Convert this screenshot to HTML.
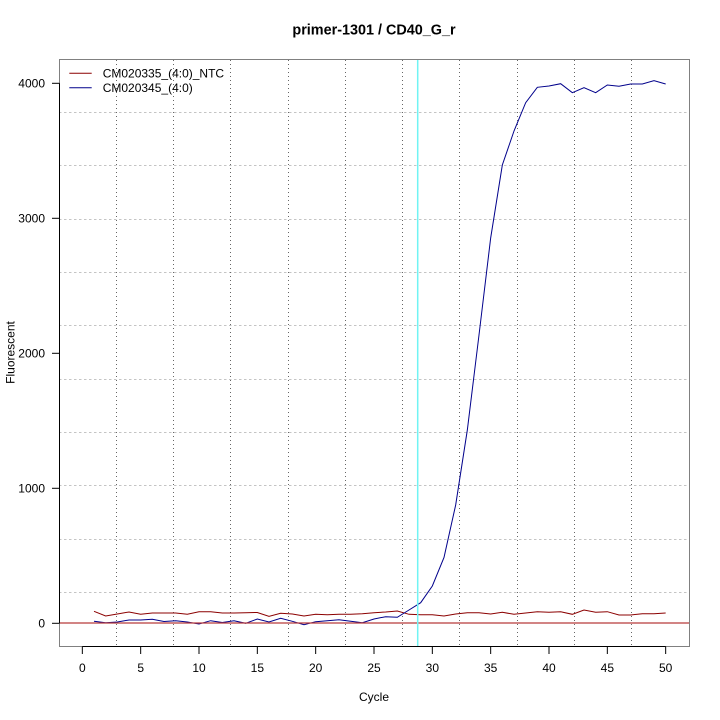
<!DOCTYPE html>
<html><head><meta charset="utf-8"><style>
html,body{margin:0;padding:0;background:#fff;}
svg{display:block;}
text{font-family:"Liberation Sans",Arial,sans-serif;fill:#000;}
</style></head><body>
<svg width="720" height="720" viewBox="0 0 720 720" xmlns="http://www.w3.org/2000/svg">
<rect width="720" height="720" fill="#fff"/>
<!-- horizontal dashed grid -->
<g stroke="#c4c4c4" stroke-width="1" stroke-dasharray="2.5,2.5">
<line x1="59" x2="689" y1="112.5" y2="112.5"/>
<line x1="59" x2="689" y1="165.5" y2="165.5"/>
<line x1="59" x2="689" y1="219.5" y2="219.5"/>
<line x1="59" x2="689" y1="272.5" y2="272.5"/>
<line x1="59" x2="689" y1="325.5" y2="325.5"/>
<line x1="59" x2="689" y1="379.5" y2="379.5"/>
<line x1="59" x2="689" y1="432.5" y2="432.5"/>
<line x1="59" x2="689" y1="485.5" y2="485.5"/>
<line x1="59" x2="689" y1="539.5" y2="539.5"/>
<line x1="59" x2="689" y1="592.5" y2="592.5"/>
</g>
<!-- vertical dotted grid -->
<g stroke="#666" stroke-width="1" stroke-dasharray="1,3">
<line y1="60" y2="646" x1="116.5" x2="116.5"/>
<line y1="60" y2="646" x1="173.5" x2="173.5"/>
<line y1="60" y2="646" x1="230.5" x2="230.5"/>
<line y1="60" y2="646" x1="288.5" x2="288.5"/>
<line y1="60" y2="646" x1="345.5" x2="345.5"/>
<line y1="60" y2="646" x1="402.5" x2="402.5"/>
<line y1="60" y2="646" x1="459.5" x2="459.5"/>
<line y1="60" y2="646" x1="517.5" x2="517.5"/>
<line y1="60" y2="646" x1="574.5" x2="574.5"/>
<line y1="60" y2="646" x1="631.5" x2="631.5"/>
</g>
<!-- series -->
<polyline fill="none" stroke="#8b0000" stroke-width="1" points="94.0,611.3 105.67,616 117.33,614 129.0,612 140.67,614.3 152.33,613 164.0,613 175.67,613 187.33,614.3 199.0,611.7 210.67,611.7 222.33,613 234.0,613 245.67,612.7 257.33,612.5 269.0,616.3 280.67,613.3 292.33,614 304.0,616 315.67,614.3 327.33,614.7 339.0,614.3 350.67,614.3 362.33,613.7 374.0,612.7 385.67,612 397.33,611 409.0,614.3 420.67,614.7 432.33,614.7 444.0,616 455.67,614 467.33,612.7 479.0,612.7 490.67,614 502.33,612.3 514.0,614.3 525.67,613 537.33,611.7 549.0,612.3 560.67,611.7 572.33,614.3 584.0,610 595.67,612.3 607.33,611.7 619.0,615 630.67,615 642.33,613.7 654.0,613.7 665.67,613"/>
<polyline fill="none" stroke="#00008b" stroke-width="1" points="94.0,621.3 105.67,622.7 117.33,622 129.0,620 140.67,620 152.33,619.3 164.0,621.5 175.67,620.7 187.33,622 199.0,624 210.67,620.7 222.33,622.5 234.0,620.7 245.67,623.3 257.33,619 269.0,622 280.67,618.3 292.33,621.3 304.0,624.7 315.67,621.7 327.33,620.7 339.0,619.7 350.67,621.3 362.33,622.7 374.0,619 385.67,616.7 397.33,617.3 409.0,610 420.67,602.7 432.33,586 444.0,557.5 455.67,505 467.33,430 479.0,335 490.67,238 502.33,165 514.0,131 525.67,102.7 537.33,87.3 549.0,86 560.67,83.7 572.33,92.7 584.0,87.7 595.67,92.7 607.33,85 619.0,86.3 630.67,84 642.33,84 654.0,80.7 665.67,84"/>
<!-- threshold lines -->
<line x1="59" x2="689" y1="623" y2="623" stroke="#b83a3a" stroke-width="1.3"/>
<line x1="417.7" x2="417.7" y1="59" y2="646" stroke="#70f4f4" stroke-width="1.5"/>
<!-- box -->
<rect x="59.5" y="59.5" width="630" height="587" fill="none" stroke="#808080" stroke-width="1"/>
<!-- axes -->
<g stroke="#000" stroke-width="1">
<line x1="59.5" x2="59.5" y1="83.3" y2="623.3"/>
<line x1="52" x2="59.5" y1="623.3" y2="623.3"/>
<line x1="52" x2="59.5" y1="488.3" y2="488.3"/>
<line x1="52" x2="59.5" y1="353.3" y2="353.3"/>
<line x1="52" x2="59.5" y1="218.3" y2="218.3"/>
<line x1="52" x2="59.5" y1="83.3" y2="83.3"/>
<line x1="82.33" x2="665.67" y1="646.5" y2="646.5"/>
<line x1="82.33" x2="82.33" y1="646.5" y2="654"/>
<line x1="140.67" x2="140.67" y1="646.5" y2="654"/>
<line x1="199.0" x2="199.0" y1="646.5" y2="654"/>
<line x1="257.33" x2="257.33" y1="646.5" y2="654"/>
<line x1="315.67" x2="315.67" y1="646.5" y2="654"/>
<line x1="374.0" x2="374.0" y1="646.5" y2="654"/>
<line x1="432.33" x2="432.33" y1="646.5" y2="654"/>
<line x1="490.67" x2="490.67" y1="646.5" y2="654"/>
<line x1="549.0" x2="549.0" y1="646.5" y2="654"/>
<line x1="607.33" x2="607.33" y1="646.5" y2="654"/>
<line x1="665.67" x2="665.67" y1="646.5" y2="654"/>
</g>
<g font-size="12" text-anchor="end">
<text x="45" y="627.6">0</text>
<text x="45" y="492.6">1000</text>
<text x="45" y="357.6">2000</text>
<text x="45" y="222.6">3000</text>
<text x="45" y="87.6">4000</text>
</g>
<g font-size="12" text-anchor="middle">
<text x="82.33" y="672">0</text>
<text x="140.67" y="672">5</text>
<text x="199.0" y="672">10</text>
<text x="257.33" y="672">15</text>
<text x="315.67" y="672">20</text>
<text x="374.0" y="672">25</text>
<text x="432.33" y="672">30</text>
<text x="490.67" y="672">35</text>
<text x="549.0" y="672">40</text>
<text x="607.33" y="672">45</text>
<text x="665.67" y="672">50</text>
<text x="374" y="701">Cycle</text>
<text x="0" y="0" transform="translate(14.5,352.5) rotate(-90)">Fluorescent</text>
</g>
<text x="374" y="34.5" font-size="14.4" font-weight="bold" text-anchor="middle">primer-1301 / CD40_G_r</text>
<!-- legend -->
<line x1="69.3" x2="91.7" y1="73.3" y2="73.3" stroke="#8b0000" stroke-width="1"/>
<line x1="69.3" x2="91.7" y1="87.7" y2="87.7" stroke="#00008b" stroke-width="1"/>
<text x="102.7" y="77.6" font-size="12">CM020335_(4:0)_NTC</text>
<text x="102.7" y="92" font-size="12">CM020345_(4:0)</text>
</svg>
</body></html>
